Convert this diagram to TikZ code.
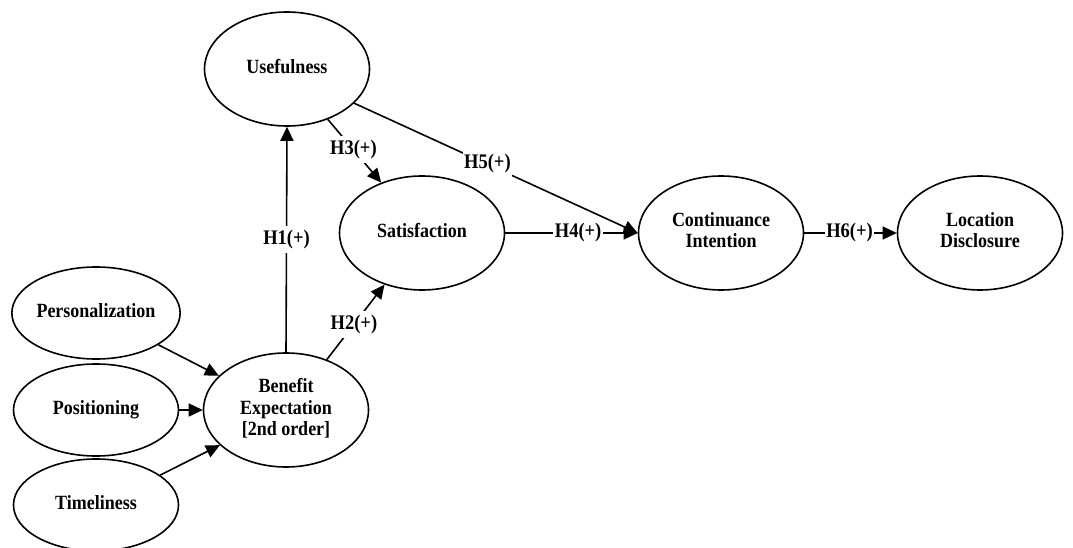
\documentclass[tikz,border=0pt]{standalone}
\usepackage{fontspec}
\setmainfont{Liberation Serif}
\usetikzlibrary{shapes.geometric,arrows.meta}
\newcommand{\vt}[1]{\raisebox{-1.5pt}{\scalebox{1}[1.12]{\begin{tabular}{@{}c@{}}#1\end{tabular}}}}
\begin{document}
\begin{tikzpicture}[x=1pt,y=-1pt,
  lv/.style={ellipse,draw,line width=1.6pt,minimum width=165pt,minimum height=114pt,inner sep=0pt,align=center,font=\fontsize{18}{19}\selectfont\bfseries},
  sm/.style={lv,minimum height=92pt},
  arr/.style={line width=1.6pt,-{Triangle[length=14pt,width=13pt]}},
  hl/.style={fill=white,inner sep=1.5pt,font=\fontsize{18.5}{21}\selectfont\bfseries}]
\useasboundingbox[fill=white] (0,0) rectangle (1073,548);
\node[lv] (use) at (287,69) {\vt{Usefulness}};
\node[lv] (sat) at (422,233) {\vt{Satisfaction}};
\node[lv] (ci) at (721,233) {\vt{Continuance\\Intention}};
\node[lv] (ld) at (980,233) {\vt{Location\\Disclosure}};
\node[sm] (pers) at (96,313) {\vt{Personalization}};
\node[sm] (pos) at (96,410) {\vt{Positioning}};
\node[sm] (tim) at (96,505) {\vt{Timeliness}};
\node[lv] (ben) at (286,410) {\vt{Benefit\\Expectation\\{[2nd order]}}};

\draw[arr] (ben.north) -- node[hl,pos=0.5] {\vt{H1(+)}} (use.south);
\draw[arr] (use.-51) -- node[hl,pos=0.48] {\vt{H3(+)}} (sat.129);
\draw[arr] (use.-27) -- node[hl,pos=0.47] {\vt{H5(+)}} (ci.west);
\draw[arr] (sat.east) -- node[hl,pos=0.55] {\vt{H4(+)}} (ci.west);
\draw[arr] (ci.east) -- node[hl,pos=0.49] {\vt{H6(+)}} (ld.west);
\draw[arr] (ben.51) -- node[hl,pos=0.47] {\vt{H2(+)}} (sat.234);
\draw[arr] (pers.-27) -- (ben.153);
\draw[arr] (pos.east) -- (ben.west);
\draw[arr] (tim.25) -- (ben.208);
\end{tikzpicture}
\end{document}
